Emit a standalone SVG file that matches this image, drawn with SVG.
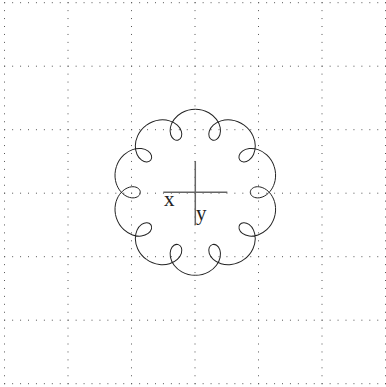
<svg xmlns="http://www.w3.org/2000/svg" xmlns:xlink="http://www.w3.org/1999/xlink" width="386" height="387" viewBox="0 0 386 387">
<style>
.grid line{stroke:#555;stroke-width:1;stroke-dasharray:1 6.9375}
.curve{fill:none;stroke:#222;stroke-width:1}
.axis{stroke:#666;stroke-width:1.5}
.lbl{font-family:"Liberation Serif","Times New Roman",serif;font-size:21px;fill:#222}
</style>
<defs>
<path id="seg" d="M 78.938 -25.648 C 80.412 -21.112 80.687 -16.202 79.795 -11.728 C 79.100 -8.241 77.711 -5.027 75.864 -2.389 C 74.017 0.249 71.720 2.305 69.333 3.645 C 66.946 4.985 64.478 5.608 62.305 5.588 C 60.132 5.568 58.262 4.909 56.978 3.869 C 55.694 2.829 55 1.4167 55 0 C 55 -1.4167 55.694 -2.829 56.978 -3.869 C 58.262 -4.909 60.132 -5.568 62.305 -5.588 C 64.478 -5.608 66.946 -4.985 69.333 -3.645 C 71.720 -2.305 74.017 -0.249 75.864 2.389 C 77.711 5.027 79.100 8.241 79.795 11.728 C 80.687 16.202 80.412 21.112 78.938 25.648"/>
</defs>
<rect width="386" height="387" fill="#fff"/>
<g class="grid">
<line x1="4.2" y1="2.7" x2="386" y2="2.7"/>
<line x1="4.2" y1="66.2" x2="386" y2="66.2"/>
<line x1="4.2" y1="129.7" x2="386" y2="129.7"/>
<line x1="4.2" y1="193.2" x2="386" y2="193.2"/>
<line x1="4.2" y1="256.7" x2="386" y2="256.7"/>
<line x1="4.2" y1="320.2" x2="386" y2="320.2"/>
<line x1="4.2" y1="383.7" x2="386" y2="383.7"/>
<line x1="4.5" y1="2.2" x2="4.5" y2="387"/>
<line x1="68" y1="2.2" x2="68" y2="387"/>
<line x1="131.5" y1="2.2" x2="131.5" y2="387"/>
<line x1="195" y1="2.2" x2="195" y2="387"/>
<line x1="258.5" y1="2.2" x2="258.5" y2="387"/>
<line x1="322" y1="2.2" x2="322" y2="387"/>
<line x1="385.5" y1="2.2" x2="385.5" y2="387"/>
</g>
<g id="curve" class="curve" transform="translate(195.3 192.3)">
<use xlink:href="#seg"/>
<use xlink:href="#seg" transform="rotate(36)"/>
<use xlink:href="#seg" transform="rotate(72)"/>
<use xlink:href="#seg" transform="rotate(108)"/>
<use xlink:href="#seg" transform="rotate(144)"/>
<use xlink:href="#seg" transform="rotate(180)"/>
<use xlink:href="#seg" transform="rotate(216)"/>
<use xlink:href="#seg" transform="rotate(252)"/>
<use xlink:href="#seg" transform="rotate(288)"/>
<use xlink:href="#seg" transform="rotate(324)"/>
</g>
<g id="axes">
<line class="axis" x1="163.3" y1="192.3" x2="227.3" y2="192.3"/>
<line class="axis" x1="195.3" y1="161" x2="195.3" y2="225"/>
<text class="lbl" x="164" y="205.5">x</text>
<text class="lbl" x="196" y="220">y</text>
</g>
</svg>
